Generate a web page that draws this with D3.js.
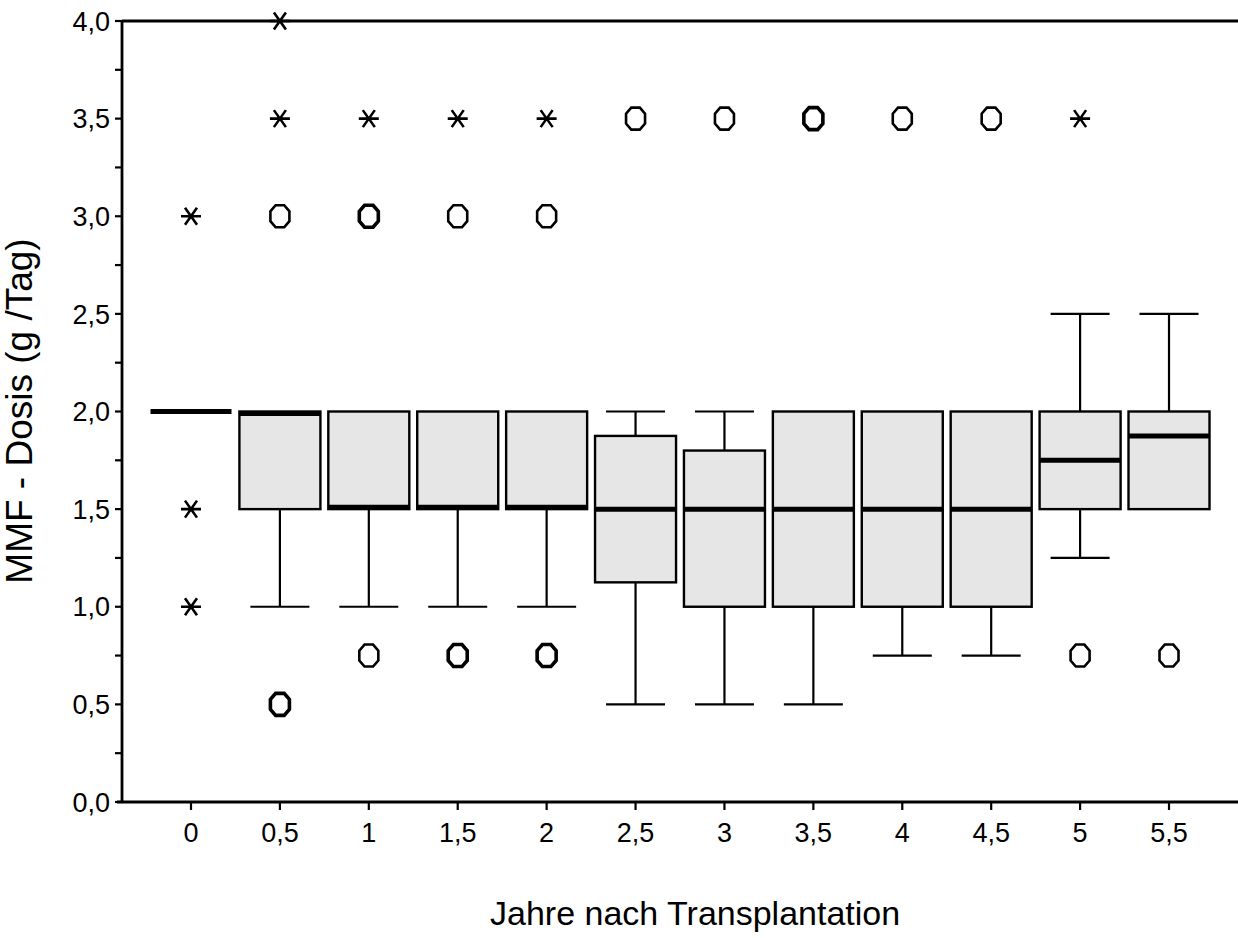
<!DOCTYPE html>
<html><head><meta charset="utf-8">
<script src="https://cdn.jsdelivr.net/npm/d3@7"></script>
<style>body{margin:0;background:#fff}svg{display:block}text{font-family:"Liberation Sans",Arial,sans-serif;fill:#000}</style>
</head><body>
<script>
const categories = ["0","0,5","1","1,5","2","2,5","3","3,5","4","4,5","5","5,5"];
const q1 =          [2.0, 1.5, 1.5, 1.5, 1.5, 1.125, 1.0, 1.0, 1.0, 1.0, 1.5, 1.5];
const median =      [2.0, 2.0, 1.5, 1.5, 1.5, 1.5, 1.5, 1.5, 1.5, 1.5, 1.75, 1.875];
const q3 =          [2.0, 2.0, 2.0, 2.0, 2.0, 1.875, 1.8, 2.0, 2.0, 2.0, 2.0, 2.0];
const whiskerLow =  [2.0, 1.0, 1.0, 1.0, 1.0, 0.5, 0.5, 0.5, 0.75, 0.75, 1.25, 1.5];
const whiskerHigh = [2.0, 2.0, 2.0, 2.0, 2.0, 2.0, 2.0, 2.0, 2.0, 2.0, 2.5, 2.5];
const outlierCats =   ["0","0","0","0,5","0,5","0,5","0,5","1","1","1","1,5","1,5","1,5","2","2","2","2,5","3","3,5","4","4,5","5","5","5,5"];
const outlierValues = [3.0,1.5,1.0,4.0,3.5,3.0,0.5,3.5,3.0,0.75,3.5,3.0,0.75,3.5,3.0,0.75,3.5,3.5,3.5,3.5,3.5,3.5,0.75,0.75];
const outlierTypes =  ["star","star","star","star","star","circle","circle","star","circle","circle","star","circle","circle","star","circle","circle","circle","circle","circle","circle","circle","star","circle","circle"];
const outlierCounts = [1,1,1,1,1,1,2,1,2,1,1,1,2,1,1,2,1,1,2,1,1,1,1,1];
const yTicks = [0,0.5,1,1.5,2,2.5,3,3.5,4];
const yMinorTicks = [0.25,0.75,1.25,1.75,2.25,2.75,3.25,3.75];

const W = 1238, H = 938;
const mLeft = 122, mRight = 1238, mTop = 21, mBottom = 802;
const svg = d3.select("body").append("svg").attr("width", W).attr("height", H);

const x = d3.scalePoint().domain(categories).range([mLeft, mRight]).padding(0.776);
const y = d3.scaleLinear().domain([0, 4]).range([mBottom, mTop]);
const fmt = d => d3.format(".1f")(d).replace(".", ",");
const boxW = 81, capW = 59;

const g = svg.append("g");
categories.forEach((c, i) => {
  const cx = x(c);
  if (whiskerLow[i] < q1[i]) {
    g.append("line").attr("x1", cx).attr("x2", cx).attr("y1", y(q1[i])).attr("y2", y(whiskerLow[i])).attr("stroke", "#000").attr("stroke-width", 2.2);
    g.append("line").attr("x1", cx - capW/2).attr("x2", cx + capW/2).attr("y1", y(whiskerLow[i])).attr("y2", y(whiskerLow[i])).attr("stroke", "#000").attr("stroke-width", 2.2);
  }
  if (whiskerHigh[i] > q3[i]) {
    g.append("line").attr("x1", cx).attr("x2", cx).attr("y1", y(q3[i])).attr("y2", y(whiskerHigh[i])).attr("stroke", "#000").attr("stroke-width", 2.2);
    g.append("line").attr("x1", cx - capW/2).attr("x2", cx + capW/2).attr("y1", y(whiskerHigh[i])).attr("y2", y(whiskerHigh[i])).attr("stroke", "#000").attr("stroke-width", 2.2);
  }
  if (q3[i] > q1[i]) {
    g.append("rect").attr("x", cx - boxW/2).attr("y", y(q3[i])).attr("width", boxW).attr("height", y(q1[i]) - y(q3[i]))
      .attr("fill", "#e6e6e6").attr("stroke", "#000").attr("stroke-width", 2.4);
  }
  let my = y(median[i]);
  if (q3[i] > q1[i]) {
    if (median[i] === q3[i]) my += 2;
    else if (median[i] === q1[i]) my -= 2;
  }
  g.append("line").attr("x1", cx - boxW/2).attr("x2", cx + boxW/2).attr("y1", my).attr("y2", my).attr("stroke", "#000").attr("stroke-width", 5);
});

const circlePath = (w, h) => {
  const a = w/2, b = h/2, k = 0.45;
  return `M${-a*k},${-b} L${a*k},${-b} L${a},${-b*k} L${a},${b*k} L${a*k},${b} L${-a*k},${b} L${-a},${b*k} L${-a},${-b*k} Z`;
};
outlierCats.forEach((c, i) => {
  const cx = x(c), cy = y(outlierValues[i]);
  const sw = outlierCounts[i] > 1 ? 3.6 : 2.6;
  if (outlierTypes[i] === "circle") {
    g.append("path").attr("d", circlePath(19, 22)).attr("transform", `translate(${cx},${cy})`)
      .attr("fill", "none").attr("stroke", "#000").attr("stroke-width", sw);
  } else {
    g.append("path").attr("d", "M-10,0 L10,0 M-6,-8.5 L6,8.5 M-6,8.5 L6,-8.5").attr("transform", `translate(${cx},${cy})`)
      .attr("fill", "none").attr("stroke", "#000").attr("stroke-width", sw);
  }
});

const ax = svg.append("g");
ax.append("line").attr("x1", mLeft).attr("x2", mRight).attr("y1", mTop).attr("y2", mTop).attr("stroke", "#000").attr("stroke-width", 2.8);
ax.append("line").attr("x1", mLeft - 5).attr("x2", mRight).attr("y1", mBottom).attr("y2", mBottom).attr("stroke", "#000").attr("stroke-width", 2.8);
ax.append("line").attr("x1", mLeft).attr("x2", mLeft).attr("y1", mTop).attr("y2", mBottom).attr("stroke", "#000").attr("stroke-width", 2.8);

yTicks.concat(yMinorTicks).forEach(v => {
  ax.append("line").attr("x1", mLeft - 7).attr("x2", mLeft).attr("y1", y(v)).attr("y2", y(v)).attr("stroke", "#000").attr("stroke-width", 2.2);
});
yTicks.forEach(v => {
  ax.append("text").attr("x", 110).attr("y", y(v)).attr("dy", "0.36em").attr("text-anchor", "end")
    .attr("font-size", 27).text(fmt(v));
});
categories.forEach(c => {
  ax.append("line").attr("x1", x(c)).attr("x2", x(c)).attr("y1", mBottom).attr("y2", mBottom + 8).attr("stroke", "#000").attr("stroke-width", 2.2);
  ax.append("text").attr("x", x(c)).attr("y", 842).attr("text-anchor", "middle").attr("font-size", 27).text(c);
});

svg.append("text").attr("x", 490).attr("y", 925).attr("text-anchor", "start").attr("font-size", 34).text("Jahre nach Transplantation");
svg.append("text").attr("transform", "translate(32,411) rotate(-90)").attr("text-anchor", "middle")
  .attr("font-size", 37).text("MMF - Dosis (g /Tag)");
</script>
</body></html>
